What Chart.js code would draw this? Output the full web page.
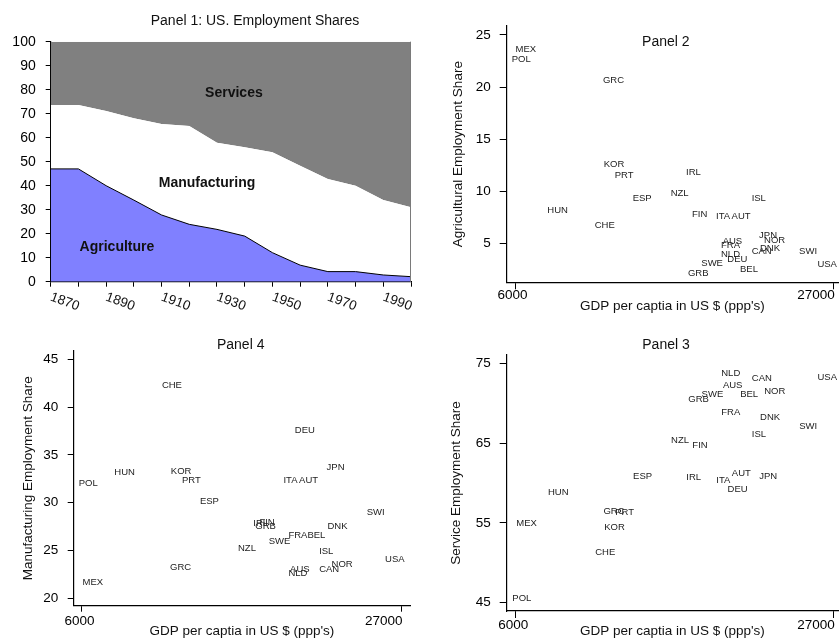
<!DOCTYPE html>
<html>
<head>
<meta charset="utf-8">
<script src="https://cdn.jsdelivr.net/npm/chart.js@4.4.1/dist/chart.umd.min.js"></script>
<style>
  body { margin: 0; background: #fff; width: 839px; height: 639px; overflow: hidden; position: relative; }
  canvas { position: absolute; }
</style>
</head>
<body>
<canvas id="p1" width="420" height="320" style="left:0;top:0"></canvas>
<canvas id="p2" width="419" height="320" style="left:420px;top:0"></canvas>
<canvas id="p4" width="420" height="340" style="left:0;top:320px"></canvas>
<canvas id="p3" width="419" height="340" style="left:420px;top:320px"></canvas>
<script>
// panel 1: US employment shares by decade
const years = ['1870', '1880', '1890', '1900', '1910', '1920', '1930', '1940', '1950', '1960', '1970', '1980', '1990', '2000'];
const yearTicks = ['1870', '', '1890', '', '1910', '', '1930', '', '1950', '', '1970', '', '1990', ''];
const agriculture = [47, 47, 40, 34, 27.8, 23.9, 21.8, 19, 12.1, 6.9, 4.2, 4.2, 2.8, 2.1];
const manufacturing = [26.6, 26.6, 31.1, 34.1, 37.9, 41, 36.1, 37, 41.8, 41.4, 38.6, 35.8, 31.2, 28.9];
const services = [26.4, 26.4, 28.9, 31.9, 34.3, 35.1, 42.1, 44, 46.1, 51.7, 57.2, 60, 66, 69];
const shareTicks = [0, 10, 20, 30, 40, 50, 60, 70, 80, 90, 100];

// panels 2-4: cross section of countries
const countries = ['MEX', 'POL', 'GRC', 'KOR', 'PRT', 'IRL', 'ESP', 'NZL', 'ISL', 'HUN', 'FIN', 'ITA', 'AUT', 'CHE',
  'JPN', 'NOR', 'AUS', 'FRA', 'DNK', 'CAN', 'SWI', 'NLD', 'DEU', 'SWE', 'USA', 'BEL', 'GRB'];
const gdp = [6040, 5780, 11800, 11850, 12580, 17280, 13760, 16270, 21610, 8130, 17680, 19260, 20290, 11260,
  22100, 22430, 19700, 19590, 22160, 21610, 24740, 19590, 20010, 18290, 25950, 20840, 17410];
const agriShare = [23.6, 22.7, 20.6, 12.6, 11.5, 11.8, 9.3, 9.8, 9.3, 8.2, 7.8, 7.6, 7.6, 6.7,
  5.8, 5.3, 5.2, 4.8, 4.5, 4.2, 4.2, 3.9, 3.5, 3.1, 3.0, 2.5, 2.1];
const manuShare = [21.7, 32.0, 23.2, 33.3, 32.3, 27.8, 30.1, 25.2, 24.9, 33.2, 27.9, 32.3, 32.3, 42.3,
  33.7, 23.5, 23.0, 26.6, 27.5, 23.0, 29.0, 22.6, 37.6, 26.0, 24.1, 26.6, 27.5];
const servShare = [55.0, 45.5, 56.4, 54.4, 56.3, 60.7, 60.8, 65.4, 66.1, 58.8, 64.7, 60.3, 61.2, 51.3,
  60.8, 71.5, 72.2, 68.9, 68.2, 73.1, 67.1, 73.7, 59.2, 71.1, 73.2, 71.1, 70.5];
const gdpTicks = [6000, 27000];
const agriTicks = [5, 10, 15, 20, 25];
const manuTicks = [20, 25, 30, 35, 40, 45];
const servTicks = [45, 55, 65, 75];

const FONT = '"Liberation Sans", Arial, Helvetica, sans-serif';
Chart.defaults.font.family = FONT;
Chart.defaults.color = '#000';
Chart.defaults.animation = false;
Chart.defaults.plugins.legend.display = false;
Chart.defaults.plugins.tooltip.enabled = false;

const panelTitle = {
  id: 'panelTitle',
  afterDraw(chart, args, opts) {
    const ctx = chart.ctx;
    ctx.save();
    ctx.font = `${opts.size}px ${FONT}`;
    ctx.fillStyle = '#111';
    ctx.textAlign = 'center';
    ctx.textBaseline = 'middle';
    ctx.fillText(opts.text, opts.x, opts.y);
    ctx.restore();
  }
};

// country codes written at their point
const countryLabels = {
  id: 'countryLabels',
  afterDatasetsDraw(chart) {
    const ctx = chart.ctx;
    const meta = chart.getDatasetMeta(0);
    ctx.save();
    ctx.font = `9.5px ${FONT}`;
    ctx.fillStyle = '#222';
    ctx.textAlign = 'left';
    ctx.textBaseline = 'middle';
    meta.data.forEach((pt, i) => ctx.fillText(countries[i], pt.x, pt.y));
    ctx.restore();
  }
};

// x tick labels: first centred, last right aligned (as in the original)
const gdpTickText = {
  id: 'gdpTickText',
  afterDraw(chart, args, opts) {
    const sc = chart.scales.x;
    const ctx = chart.ctx;
    ctx.save();
    ctx.font = `13.5px ${FONT}`;
    ctx.fillStyle = '#000';
    ctx.textBaseline = 'middle';
    gdpTicks.forEach((v, i) => {
      const last = i === gdpTicks.length - 1;
      ctx.textAlign = last ? 'right' : 'center';
      ctx.fillText(String(v), sc.getPixelForValue(v) + (last ? 1.5 : -2.5), chart.chartArea.bottom + opts.dy);
    });
    ctx.restore();
  }
};

const fixAxisY = (w) => (s) => { s.width = w; s.paddingTop = 0; s.paddingBottom = 0; };
const fixAxisX = (h) => (s) => { s.height = h; s.paddingLeft = 0; s.paddingRight = 0; };

const makeScatter = (id, values, c) => new Chart(document.getElementById(id), {
  type: 'scatter',
  data: {
    datasets: [{
      data: gdp.map((g, i) => ({ x: g, y: values[i] })),
      pointRadius: 0,
      pointHoverRadius: 0,
    }],
  },
  options: {
    responsive: false,
    layout: { padding: { top: c.top, right: c.right, left: 0, bottom: 0 } },
    scales: {
      x: {
        type: 'linear',
        min: c.xMin,
        max: c.xMax,
        afterBuildTicks: (s) => { s.ticks = gdpTicks.map((v) => ({ value: v })); },
        afterFit: fixAxisX(c.xH),
        ticks: { display: false },
        grid: { drawOnChartArea: false, tickLength: c.tick, color: '#000' },
        border: { color: '#000', width: 1.2 },
        title: {
          display: true,
          text: "GDP per captia in US $ (ppp's)",
          font: { size: 13.5 },
          color: '#111',
          padding: { top: 0, bottom: c.xTitlePad },
        },
      },
      y: {
        min: c.yMin,
        max: c.yMax,
        afterBuildTicks: (s) => { s.ticks = c.yTicks.map((v) => ({ value: v })); },
        afterFit: fixAxisY(c.yW),
        ticks: { font: { size: 13.5 }, padding: c.yPad, color: '#000' },
        grid: { drawOnChartArea: false, tickLength: c.tick, color: '#000' },
        border: { color: '#000', width: 1.2 },
        title: {
          display: true,
          text: c.yTitle,
          font: { size: 13.5 },
          color: '#111',
          padding: { top: c.yTitlePad, bottom: 0 },
        },
      },
    },
    plugins: {
      panelTitle: { text: c.title, x: c.tx, y: c.ty, size: 14 },
      gdpTickText: { dy: c.tickDy },
    },
  },
  plugins: [countryLabels, gdpTickText, panelTitle],
});

// ---- panel 1 ----
const areaLabels = {
  id: 'areaLabels',
  afterDatasetsDraw(chart, args, opts) {
    const ctx = chart.ctx;
    const xs = chart.scales.x;
    const ys = chart.scales.y;
    ctx.save();
    ctx.font = `bold 14px ${FONT}`;
    ctx.fillStyle = '#111';
    ctx.textAlign = 'center';
    ctx.textBaseline = 'middle';
    chart.data.datasets.forEach((ds, i) => {
      const [ix, v] = opts.at[i];
      ctx.fillText(ds.label, xs.getPixelForValue(ix), ys.getPixelForValue(v));
    });
    // right edge of the plot
    const a = chart.chartArea;
    ctx.strokeStyle = '#7a7a7a';
    ctx.lineWidth = 1;
    ctx.beginPath();
    ctx.moveTo(a.right - 0.5, a.top);
    ctx.lineTo(a.right - 0.5, a.bottom);
    ctx.stroke();
    ctx.restore();
  }
};

const yearText = {
  id: 'yearText',
  afterDraw(chart) {
    const ctx = chart.ctx;
    const xs = chart.scales.x;
    const bottom = chart.chartArea.bottom;
    ctx.save();
    ctx.font = `13.5px ${FONT}`;
    ctx.fillStyle = '#111';
    ctx.textAlign = 'left';
    ctx.textBaseline = 'middle';
    yearTicks.forEach((t, i) => {
      if (!t) return;
      ctx.save();
      ctx.translate(xs.getPixelForValue(i), bottom + 15);
      ctx.rotate(Math.PI / 9);
      ctx.fillText(t, 0, 0);
      ctx.restore();
    });
    ctx.restore();
  }
};

new Chart(document.getElementById('p1'), {
  type: 'line',
  data: {
    labels: years,
    datasets: [
      {
        label: 'Agriculture',
        data: agriculture,
        backgroundColor: '#8080ff',
        borderColor: '#000',
        borderWidth: 1,
        fill: 'origin',
        pointRadius: 0,
        tension: 0,
      },
      {
        label: 'Manufacturing',
        data: manufacturing,
        backgroundColor: '#ffffff',
        borderColor: 'rgba(0,0,0,0)',
        borderWidth: 1,
        fill: '-1',
        pointRadius: 0,
        tension: 0,
      },
      {
        label: 'Services',
        data: services,
        backgroundColor: '#808080',
        borderColor: 'rgba(0,0,0,0)',
        borderWidth: 1,
        fill: '-1',
        pointRadius: 0,
        tension: 0,
      },
    ],
  },
  options: {
    responsive: false,
    layout: { padding: { top: 41.7, right: 9, left: 0, bottom: 0 } },
    scales: {
      x: {
        offset: false,
        afterFit: fixAxisX(38.3),
        ticks: { display: false, autoSkip: false },
        grid: { drawOnChartArea: false, tickLength: 5, color: '#000' },
        border: { color: '#000', width: 1.2 },
      },
      y: {
        stacked: true,
        min: 0,
        max: 100,
        afterBuildTicks: (s) => { s.ticks = shareTicks.map((v) => ({ value: v })); },
        afterFit: fixAxisY(50.7),
        ticks: { font: { size: 14 }, padding: 10, color: '#000' },
        grid: { drawOnChartArea: false, tickLength: 5, color: '#000' },
        border: { color: '#000', width: 1.2 },
      },
    },
    plugins: {
      filler: { propagate: false },
      areaLabels: { at: [[2.39, 14.5], [5.64, 41], [6.61, 78.6]] },
      panelTitle: { text: 'Panel 1: US. Employment Shares', x: 255, y: 21, size: 14 },
    },
  },
  plugins: [areaLabels, yearText, panelTitle],
});

makeScatter('p2', agriShare, {
  title: 'Panel 2', tx: 245.8, ty: 42,
  top: 26, right: 1, yW: 86.7, xH: 37.7,
  xMin: 5452, xMax: 27308, yMin: 1.26, yMax: 25.86, yTicks: agriTicks,
  tick: 7, yPad: 9, yTitle: 'Agricultural Employment Share', yTitlePad: 29.9,
  xTitlePad: 5.2, tickDy: 13.4,
});

makeScatter('p4', manuShare, {
  title: 'Panel 4', tx: 240.7, ty: 25,
  top: 30.7, right: 10, yW: 73.7, xH: 54.3,
  xMin: 5454, xMax: 27592, yMin: 19.23, yMax: 45.9, yTicks: manuTicks,
  tick: 6, yPad: 9.4, yTitle: 'Manufacturing Employment Share', yTitlePad: 20.2,
  xTitlePad: 20.2, tickDy: 16,
});

makeScatter('p3', servShare, {
  title: 'Panel 3', tx: 246, ty: 25,
  top: 35, right: 1, yW: 86.7, xH: 49,
  xMin: 5405, xMax: 27310, yMin: 43.96, yMax: 76.04, yTicks: servTicks,
  tick: 7, yPad: 9, yTitle: 'Service Employment Share', yTitlePad: 28.6,
  xTitlePad: 20.2, tickDy: 14,
});
</script>
</body>
</html>
